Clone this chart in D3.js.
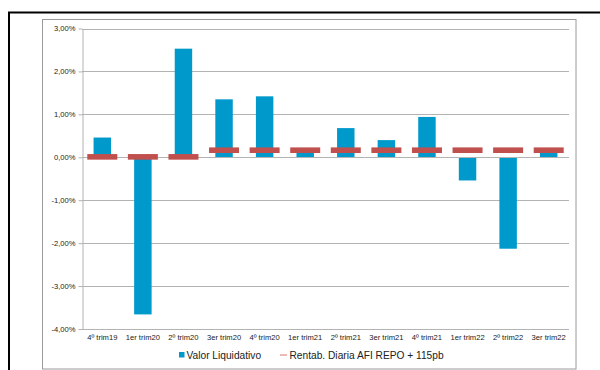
<!DOCTYPE html>
<html>
<head>
<meta charset="utf-8">
<script src="https://cdn.jsdelivr.net/npm/d3@7"></script>
<style>
  html, body { margin: 0; padding: 0; background: #fff; }
  svg { display: block; font-family: "Liberation Sans", Arial, sans-serif; }
</style>
</head>
<body>
<svg id="chart" width="600" height="370"></svg>
<script>
// Quarterly returns of the fund vs. benchmark (%)
const categories = ["4º trim19", "1er trim20", "2º trim20", "3er trim20", "4º trim20", "1er trim21",
                    "2º trim21", "3er trim21", "4º trim21", "1er trim22", "2º trim22", "3er trim22"];
const valorLiquidativo = [0.46, -3.66, 2.53, 1.35, 1.42, 0.15, 0.68, 0.40, 0.94, -0.54, -2.13, 0.15];
const rentabRepo = [0.01, 0.01, 0.01, 0.165, 0.165, 0.165, 0.165, 0.165, 0.165, 0.165, 0.165, 0.165];
const yTicks = [3, 2, 1, 0, -1, -2, -3, -4];
const seriesNames = ["Valor Liquidativo", "Rentab. Diaria AFI REPO + 115pb"];

const svg = d3.select("#chart");
// Spanish percent format with a plain hyphen for negatives
const fmt = v => d3.format(".2f")(v).replace(".", ",").replace("\u2212", "-") + "%";

// outer frame
svg.append("path").attr("d", "M9,370 V12.5 H600")
  .attr("fill", "none").attr("stroke", "#000").attr("stroke-width", 2);
// chart area frame
svg.append("rect").attr("x", 42.5).attr("y", 19.5).attr("width", 533.5).attr("height", 349.5)
  .attr("fill", "#fff").attr("stroke", "#9a9a9a").attr("stroke-width", 1);

const plot = { left: 82, right: 569, top: 28.5, bottom: 329 };

const x = d3.scaleBand().domain(categories).range([plot.left, plot.right]);
const y = d3.scaleLinear().domain([-4, 3]).range([plot.bottom, plot.top]);

// gridlines
svg.append("g").selectAll("line").data(yTicks).join("line")
  .attr("x1", plot.left).attr("x2", plot.right)
  .attr("y1", d => Math.round(y(d)) + 0.5).attr("y2", d => Math.round(y(d)) + 0.5)
  .attr("stroke", "#b3b3b3").attr("stroke-width", 1);

// y axis
const yAxis = svg.append("g").attr("transform", `translate(${plot.left + 0.5},0)`)
  .call(d3.axisLeft(y).tickValues(yTicks).tickFormat(fmt).tickSize(4).tickSizeOuter(0));
yAxis.select(".domain").attr("stroke", "#b3b3b3");
yAxis.selectAll(".tick line").attr("stroke", "#b3b3b3");
yAxis.selectAll(".tick text").attr("font-size", 7.6).attr("fill", "#222").attr("x", -7)
  .attr("font-family", "Liberation Sans, Arial, sans-serif");

// bars
const bw = x.bandwidth() * 0.43;
svg.append("g").selectAll("rect").data(valorLiquidativo).join("rect")
  .attr("x", (d, i) => x(categories[i]) + x.bandwidth() / 2 - bw / 2)
  .attr("y", d => y(Math.max(0, d)))
  .attr("width", bw)
  .attr("height", d => Math.abs(y(d) - y(0)))
  .attr("fill", "#0099cc");

// zero line over bars
svg.append("line").attr("x1", plot.left).attr("x2", plot.right)
  .attr("y1", Math.round(y(0)) + 0.5).attr("y2", Math.round(y(0)) + 0.5)
  .attr("stroke", "#b3b3b3");

// benchmark dashes
const dw = 30;
svg.append("g").selectAll("rect").data(rentabRepo).join("rect")
  .attr("x", (d, i) => x(categories[i]) + x.bandwidth() / 2 - dw / 2)
  .attr("y", d => y(d) - 2.8)
  .attr("width", dw).attr("height", 5.6)
  .attr("fill", "#c0504d");

// x labels
svg.append("g").selectAll("text").data(categories).join("text")
  .attr("x", d => x(d) + x.bandwidth() / 2)
  .attr("y", 340)
  .attr("text-anchor", "middle")
  .attr("font-size", 7.6).attr("fill", "#222")
  .text(d => d);

// legend
const lg = svg.append("g");
lg.append("rect").attr("x", 179).attr("y", 352).attr("width", 5.5).attr("height", 5.5).attr("fill", "#0099cc");
lg.append("text").attr("x", 186.5).attr("y", 359).attr("font-size", 10.2).attr("fill", "#222").text(seriesNames[0]);
lg.append("line").attr("x1", 280).attr("x2", 287).attr("y1", 355).attr("y2", 355)
  .attr("stroke", "#e08a88").attr("stroke-width", 1.2);
lg.append("text").attr("x", 289.5).attr("y", 359).attr("font-size", 10.2).attr("fill", "#222").text(seriesNames[1]);
</script>
</body>
</html>
